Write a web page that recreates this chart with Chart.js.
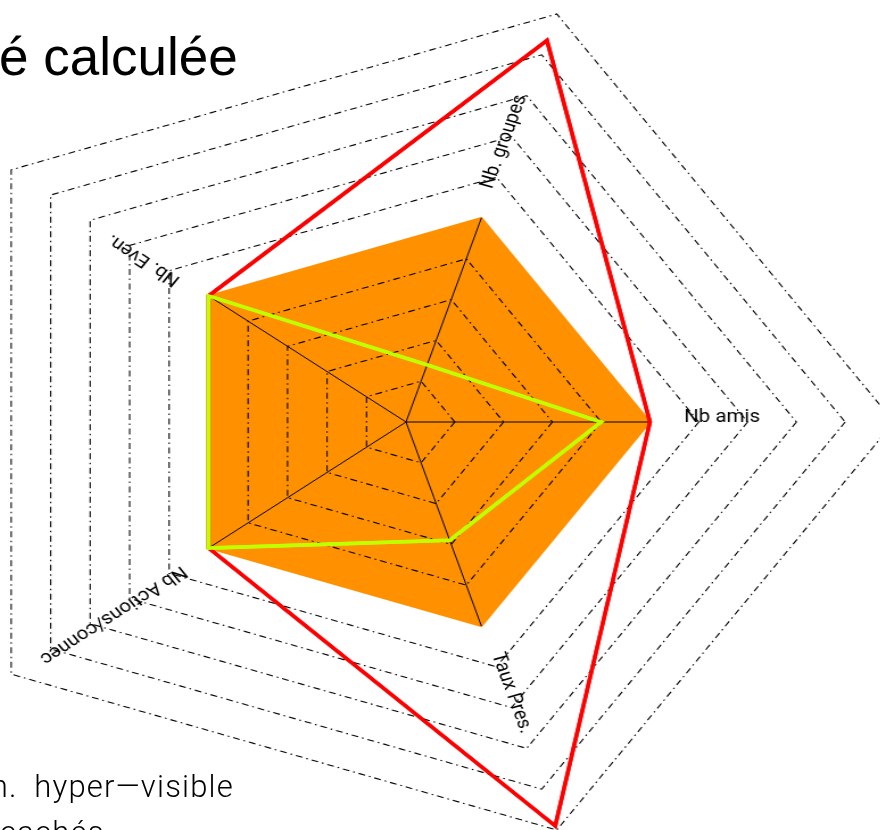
<!DOCTYPE html>
<html>
<head>
<meta charset="utf-8">
<script src="https://cdn.jsdelivr.net/npm/chart.js@4/dist/chart.umd.min.js"></script>
<style>
  html, body { margin: 0; padding: 0; background: #fff; }
  body { width: 880px; height: 830px; overflow: hidden; position: relative; }
  .RadarWrapper { position: absolute; left: -82px; top: -7px; width: 858px; height: 858px; transform: scale(1.1375, 1); transform-origin: 0 0; }
  .title { position: absolute; left: -1px; top: 30px; font: 53px 'Liberation Sans', Arial, sans-serif; line-height: 53px; color: #000; white-space: nowrap; }
  .legend { position: absolute; font: 300 31px Roboto, 'DejaVu Sans', sans-serif; line-height: 31px; color: #000; white-space: nowrap; letter-spacing: 1.2px; word-spacing: 8px; }
</style>
</head>
<body>
<div class="title">é calculée</div>
<div class="RadarWrapper"><canvas id="RadarPlot"></canvas></div>
<div class="legend" style="right: 646px; top: 771px;">n. hyper—visible</div>
<div class="legend" style="left: 0px; top: 817px;">cachés</div>
<script>
const labels = ['Nb amis', 'Taux Pres.', 'Nb Actions/connec', 'Nb. Even.', 'Nb. groupes']
const zoneValues = [5, 5, 5, 5, 5]
const hyperVisibleValues = [5, 9.9, 5, 5, 9.35]
const cachesValues = [4, 2.9, 5, 5, 1.4]
const scaleMax = 10
const labelStart = 5.7

// spokes, lines on top of the grid, rotated axis names
const radarOverlay = {
    id: 'radarOverlay',
    afterDraw(chart) {
        const ctx = chart.ctx
        const scale = chart.scales.r
        const zone = chart.getDatasetMeta(0)

        ctx.save()
        ctx.strokeStyle = '#000'
        ctx.lineWidth = 1
        zone.data.forEach(pt => {
            ctx.beginPath()
            ctx.moveTo(scale.xCenter, scale.yCenter)
            ctx.lineTo(pt.x, pt.y)
            ctx.stroke()
        })
        ctx.restore()

        chart.getDatasetMeta(1).controller.draw()
        chart.getDatasetMeta(2).controller.draw()

        ctx.save()
        ctx.font = '18px Roboto, "DejaVu Sans", sans-serif'
        ctx.fillStyle = '#000'
        ctx.textAlign = 'left'
        ctx.textBaseline = 'alphabetic'
        chart.data.labels.forEach((label, i) => {
            const pos = scale.getPointPosition(i, scale.getDistanceFromCenterForValue(labelStart))
            ctx.save()
            ctx.translate(pos.x, pos.y)
            ctx.rotate(scale.getIndexAngle(i) - Math.PI / 2)
            ctx.fillText(label, 0, 0)
            ctx.restore()
        })
        ctx.restore()
    }
}

new Chart(document.getElementById('RadarPlot'), {
    type: 'radar',
    data: {
        labels: labels,
        datasets: [{
            label: 'Zone',
            data: zoneValues,
            fill: true,
            backgroundColor: 'rgb(255, 145, 0)',
            borderColor: 'rgb(255, 145, 0)',
            borderWidth: 2,
            pointRadius: 0,
            order: 2
        }, {
            label: 'Nb. hyper-visible',
            data: hyperVisibleValues,
            fill: false,
            borderColor: 'rgb(255, 0, 0)',
            borderWidth: 3.5,
            pointRadius: 0,
            order: 1
        }, {
            label: 'Nb. cachés',
            data: cachesValues,
            fill: false,
            borderColor: 'rgb(192, 255, 0)',
            borderWidth: 3.5,
            pointRadius: 0,
            order: 0
        }]
    },
    options: {
        responsive: true,
        maintainAspectRatio: false,
        animation: false,
        layout: { padding: 0 },
        plugins: {
            legend: { display: false },
            tooltip: { enabled: false }
        },
        scales: {
            r: {
                min: 0,
                max: scaleMax,
                startAngle: 90,
                ticks: { display: false, stepSize: 1 },
                pointLabels: { display: false },
                angleLines: { display: false },
                grid: {
                    z: 1,
                    lineWidth: 1.1,
                    color: c => c.tick && c.tick.value === 5 ? 'rgba(0,0,0,0)' : '#000'
                },
                border: { dash: [6, 3.5, 1.5, 3.5] }
            }
        }
    },
    plugins: [radarOverlay]
})
</script>
</body>
</html>
